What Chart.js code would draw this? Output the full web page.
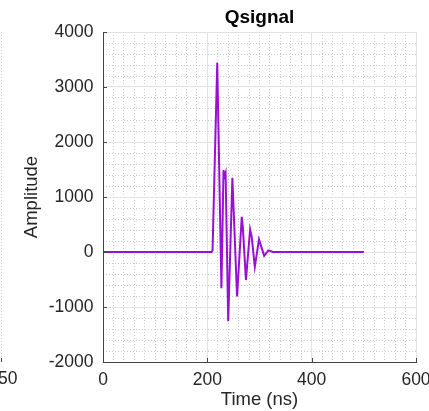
<!DOCTYPE html>
<html>
<head>
<meta charset="utf-8">
<script src="https://cdn.jsdelivr.net/npm/chart.js@4"></script>
<style>
  html, body { margin: 0; padding: 0; background: #fff; }
  canvas { display: block; }
</style>
</head>
<body>
<canvas id="myChart" width="429" height="411"></canvas>
<script>
// values
const timeNs = [0, 100, 208, 210, 219, 227, 231, 233, 235, 240, 248, 257, 266, 268, 274, 282, 285, 291, 299, 309, 317, 326, 500];
const amplitude = [0, 0, 0, 30, 3440, -660, 1490, 1380, 1440, -1260, 1350, -810, 640, 460, -510, 410, 280, -270, 230, -70, 30, 0, 0];
const xTicks = [0, 200, 400, 600];
const yTicks = [-2000, -1000, 0, 1000, 2000, 3000, 4000];

const FONT = "'Liberation Sans', Arial, Helvetica, sans-serif";
Chart.defaults.font.family = FONT;
Chart.defaults.font.size = 17.5;
Chart.defaults.color = "#262626";

const points = timeNs.map((t, i) => ({ x: t, y: amplitude[i] }));

const noPad = (s) => {
  s.paddingLeft = 0;
  s.paddingRight = 0;
  s.paddingTop = 0;
  s.paddingBottom = 0;
};

// inward ticks + the bits of the neighbouring subplot on the left edge
const extras = {
  id: "extras",
  afterDraw(chart) {
    const { ctx, chartArea, scales } = chart;
    ctx.save();
    ctx.strokeStyle = "#444";
    ctx.lineWidth = 1;
    ctx.beginPath();
    xTicks.forEach((v) => {
      const px = Math.round(scales.x.getPixelForValue(v)) + 0.5;
      ctx.moveTo(px, chartArea.bottom);
      ctx.lineTo(px, chartArea.bottom - 4);
    });
    yTicks.forEach((v) => {
      const py = Math.round(scales.y.getPixelForValue(v)) + 0.5;
      ctx.moveTo(chartArea.left, py);
      ctx.lineTo(chartArea.left + 4, py);
    });
    ctx.stroke();

    ctx.strokeStyle = "#d0d0d0";
    ctx.setLineDash([1, 2]);
    ctx.beginPath();
    ctx.moveTo(1.5, chartArea.top);
    ctx.lineTo(1.5, chartArea.bottom);
    ctx.stroke();
    ctx.setLineDash([]);
    ctx.strokeStyle = "#444";
    ctx.beginPath();
    ctx.moveTo(1.5, chartArea.bottom - 4);
    ctx.lineTo(1.5, chartArea.bottom);
    ctx.stroke();

    ctx.fillStyle = "#262626";
    ctx.font = "17.5px " + FONT;
    ctx.textAlign = "left";
    ctx.textBaseline = "middle";
    ctx.fillText("50", -2, 379);
    ctx.restore();
  },
};

new Chart(document.getElementById("myChart"), {
  type: "line",
  data: {
    datasets: [
      {
        data: points,
        borderColor: "#9a10d2",
        borderWidth: 2,
        pointRadius: 0,
        tension: 0,
      },
    ],
  },
  options: {
    responsive: false,
    animation: false,
    devicePixelRatio: 1,
    layout: { padding: { left: 0, right: 13, top: 0, bottom: 0 } },
    plugins: {
      legend: { display: false },
      tooltip: { enabled: false },
      title: {
        display: true,
        text: "Qsignal",
        fullSize: false,
        color: "#000",
        font: { size: 19, weight: "bold" },
        padding: { top: 6.5, bottom: 2.7 },
      },
    },
    scales: {
      x2: {
        type: "linear",
        position: "bottom",
        min: 0,
        max: 600,
        ticks: { display: false, stepSize: 20 },
        grid: {
          drawTicks: false,
          color: (c) => (c.tick.value % 200 === 0 ? "rgba(0,0,0,0)" : "#cbcbcb"),
        },
        border: { display: false, dash: [1, 2] },
        afterFit: (s) => { s.height = 0; noPad(s); },
      },
      y2: {
        type: "linear",
        position: "left",
        min: -2000,
        max: 4000,
        ticks: { display: false, stepSize: 200 },
        grid: {
          drawTicks: false,
          color: (c) => (c.tick.value % 1000 === 0 ? "rgba(0,0,0,0)" : "#cbcbcb"),
        },
        border: { display: false, dash: [1, 2] },
        afterFit: (s) => { s.width = 0; noPad(s); },
      },
      x: {
        type: "linear",
        position: "bottom",
        min: xTicks[0],
        max: xTicks[xTicks.length - 1],
        afterBuildTicks: (s) => { s.ticks = xTicks.map((v) => ({ value: v })); },
        ticks: {
          padding: 8,
          maxRotation: 0,
          autoSkip: false,
          callback: (v) => String(v),
        },
        grid: { drawTicks: false, color: "#e2e2e2" },
        border: { display: true, color: "#444", width: 1 },
        title: {
          display: true,
          text: "Time (ns)",
          font: { size: 18.5 },
          padding: { top: 2, bottom: 0 },
        },
        afterFit: (s) => { s.height = 49; noPad(s); },
      },
      y: {
        type: "linear",
        position: "left",
        min: yTicks[0],
        max: yTicks[yTicks.length - 1],
        afterBuildTicks: (s) => { s.ticks = yTicks.map((v) => ({ value: v })); },
        ticks: {
          padding: 9.5,
          autoSkip: false,
          callback: (v) => String(v),
        },
        grid: { drawTicks: false, color: "#e2e2e2" },
        border: { display: true, color: "#444", width: 1 },
        title: {
          display: true,
          text: "Amplitude",
          font: { size: 18.5 },
          padding: { top: 21, bottom: 0 },
        },
        afterFit: (s) => { s.width = 103; noPad(s); },
      },
    },
  },
  plugins: [extras],
});
</script>
</body>
</html>
